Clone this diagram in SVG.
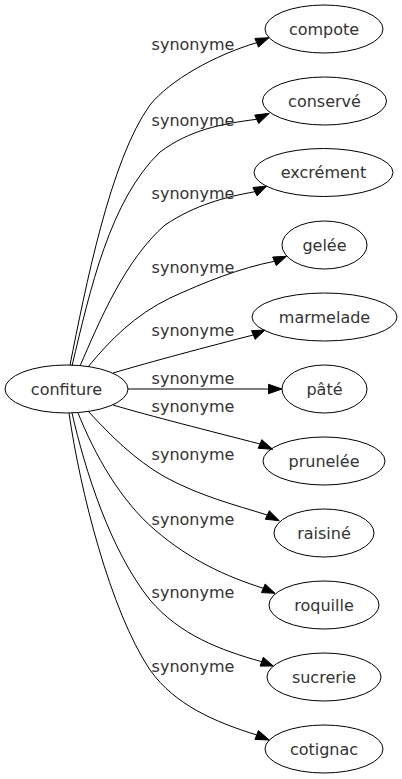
<svg xmlns="http://www.w3.org/2000/svg" width="402" height="779" viewBox="0 0 402 779">
<style>
.n ellipse{fill:none;stroke:#000;stroke-width:1}
text{font-family:"DejaVu Sans",Verdana,sans-serif;font-size:16px;fill:#333;text-anchor:middle}
.e path{fill:none;stroke:#000;stroke-width:1}
.e polygon{fill:#000;stroke:#000;stroke-width:1}
</style>
<rect width="402" height="779" fill="#fff"/>
<g id="edges" class="e">
<path d="M70,365 C85,290 110,160 150,105 C170,80 215,55 256.7,42.7"/>
<polygon points="269,37.7 258.5,47.1 254.9,38.4"/>
<path d="M72,366 C90,290 110,200 160,152 C190,130 220,124 256.7,119.3"/>
<polygon points="269.3,113.3 258.7,123.5 254.7,115.1"/>
<path d="M80,366 C100,320 125,260 165,225 C195,205 225,197 255,191.7"/>
<polygon points="266.7,186 257.1,195.9 252.9,187.5"/>
<path d="M88,367 C110,340 135,315 170,298 C205,282 240,268 274.5,261.3"/>
<polygon points="286.5,256.3 276.3,265.6 272.7,257"/>
<path d="M113,373 C150,362 210,346 253.3,335"/>
<polygon points="265,330 255.2,339.3 251.5,330.7"/>
<path d="M128,389 L268.5,389"/>
<polygon points="282,389 268.5,393.7 268.5,384.3"/>
<path d="M113,405 C150,416 210,431 260,444"/>
<polygon points="272.7,449.3 258.2,448.3 261.8,439.7"/>
<path d="M88,411 C110,435 135,460 165,477 C200,496 235,505 267.3,515"/>
<polygon points="279.3,520.7 265.3,519.2 269.3,510.8"/>
<path d="M78,413 C95,455 120,500 155,530 C190,560 225,576 263.3,588.3"/>
<polygon points="275,593.3 261.5,592.6 265.2,584"/>
<path d="M72,413 C85,470 110,550 150,600 C180,635 220,650 261.7,661.7"/>
<polygon points="273.3,666 260.1,666.1 263.3,657.3"/>
<path d="M69,413 C80,490 110,610 150,670 C175,705 215,722 256.7,735"/>
<polygon points="269.3,740 255,739.4 258.4,730.6"/>
<text x="193" y="50">synonyme</text>
<text x="193" y="125.5">synonyme</text>
<text x="193" y="199">synonyme</text>
<text x="193" y="273">synonyme</text>
<text x="193" y="335.5">synonyme</text>
<text x="193" y="384">synonyme</text>
<text x="193" y="412">synonyme</text>
<text x="193" y="460">synonyme</text>
<text x="193" y="524.5">synonyme</text>
<text x="193" y="598">synonyme</text>
<text x="193" y="672">synonyme</text>
</g>
<g id="confiture" class="n"><ellipse cx="66.5" cy="389" rx="61.5" ry="24"/><text x="66.5" y="394.5">confiture</text></g>
<g id="compote" class="n"><ellipse cx="324" cy="29" rx="59" ry="24"/><text x="324" y="34.5">compote</text></g>
<g id="conserve" class="n"><ellipse cx="324.5" cy="101" rx="62" ry="24"/><text x="324.5" y="106.5">conservé</text></g>
<g id="excrement" class="n"><ellipse cx="323.5" cy="172.5" rx="69.5" ry="24"/><text x="323.5" y="178">excrément</text></g>
<g id="gelee" class="n"><ellipse cx="324.5" cy="245" rx="42.5" ry="24"/><text x="324.5" y="250.5">gelée</text></g>
<g id="marmelade" class="n"><ellipse cx="324.5" cy="317" rx="72.5" ry="24"/><text x="324.5" y="322.5">marmelade</text></g>
<g id="pate" class="n"><ellipse cx="324.5" cy="389" rx="42.5" ry="24"/><text x="324.5" y="394.5">pâté</text></g>
<g id="prunelee" class="n"><ellipse cx="324" cy="461" rx="61" ry="24"/><text x="324" y="466.5">prunelée</text></g>
<g id="raisine" class="n"><ellipse cx="324" cy="533" rx="50" ry="24"/><text x="324" y="538.5">raisiné</text></g>
<g id="roquille" class="n"><ellipse cx="324" cy="605" rx="55" ry="24"/><text x="324" y="610.5">roquille</text></g>
<g id="sucrerie" class="n"><ellipse cx="324" cy="677" rx="57" ry="24"/><text x="324" y="682.5">sucrerie</text></g>
<g id="cotignac" class="n"><ellipse cx="324" cy="749" rx="59" ry="24"/><text x="324" y="754.5">cotignac</text></g>
</svg>
